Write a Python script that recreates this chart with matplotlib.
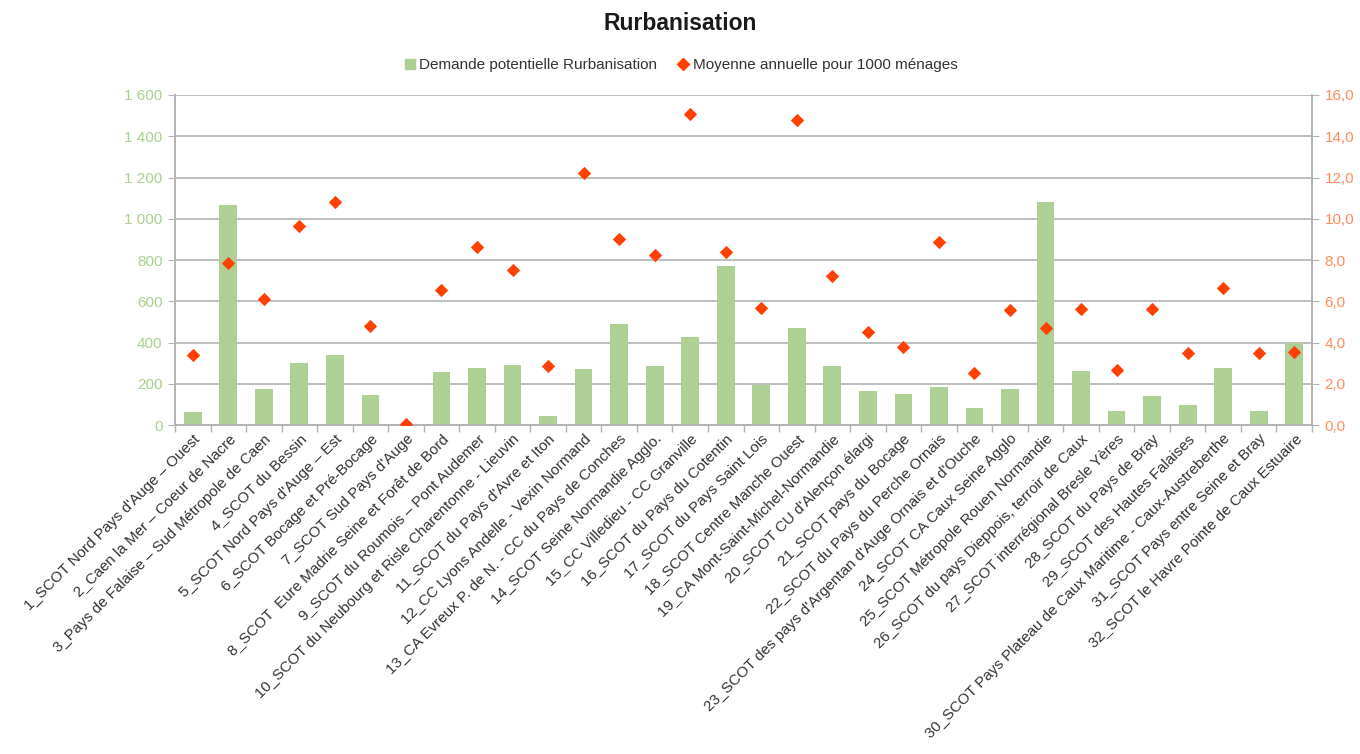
import matplotlib
matplotlib.use("Agg")
import matplotlib.pyplot as plt
from matplotlib.ticker import FixedLocator, FuncFormatter
from matplotlib.lines import Line2D
import numpy as np

plt.rcParams['font.family'] = ['Liberation Sans', 'DejaVu Sans']

categories = [
    "1_SCOT Nord Pays d'Auge – Ouest",
    "2_Caen la Mer – Coeur de Nacre",
    "3_Pays de Falaise – Sud Métropole de Caen",
    "4_SCOT du Bessin",
    "5_SCOT Nord Pays d'Auge – Est",
    "6_SCOT Bocage et Pré-Bocage",
    "7_SCOT Sud Pays d'Auge",
    "8_SCOT  Eure Madrie Seine et Forêt de Bord",
    "9_SCOT du Roumois – Pont Audemer",
    "10_SCOT du Neubourg et Risle Charentonne - Lieuvin",
    "11_SCOT du Pays d'Avre et Iton",
    "12_CC Lyons Andelle - Vexin Normand",
    "13_CA Evreux P. de N. - CC du Pays de Conches",
    "14_SCOT Seine Normandie Agglo.",
    "15_CC Villedieu - CC Granville",
    "16_SCOT du Pays du Cotentin",
    "17_SCOT du Pays Saint Lois",
    "18_SCOT Centre Manche Ouest",
    "19_CA Mont-Saint-Michel-Normandie",
    "20_SCOT CU d'Alençon élargi",
    "21_SCOT pays du Bocage",
    "22_SCOT du Pays du Perche Ornais",
    "23_SCOT des pays d'Argentan d'Auge Ornais et d'Ouche",
    "24_SCOT CA Caux Seine Agglo",
    "25_SCOT Métropole Rouen Normandie",
    "26_SCOT du pays Dieppois, terroir de Caux",
    "27_SCOT interrégional Bresle Yères",
    "28_SCOT du Pays de Bray",
    "29_SCOT des Hautes Falaises",
    "30_SCOT Pays Plateau de Caux Maritime - Caux-Austreberthe",
    "31_SCOT Pays entre Seine et Bray",
    "32_SCOT le Havre Pointe de Caux Estuaire",
]

demande = [64, 1065, 176, 299, 337, 146, 0, 255, 277, 291,
           45, 270, 492, 287, 427, 770, 193, 468, 287, 163,
           150, 182, 82, 176, 1082, 263, 66, 142, 99, 277,
           67, 400]

moyenne = [3.4, 7.85, 6.1, 9.65, 10.8, 4.8, 0.05, 6.56, 8.63, 7.5,
           2.86, 12.2, 9.0, 8.24, 15.1, 8.4, 5.67, 14.8, 7.24, 4.49,
           3.8, 8.87, 2.5, 5.6, 4.72, 5.64, 2.65, 5.64, 3.49, 6.66,
           3.47, 3.54]

left_ticks = [0, 200, 400, 600, 800, 1000, 1200, 1400, 1600]
right_ticks = [0, 2, 4, 6, 8, 10, 12, 14, 16]

bar_color = "#afd095"
dot_color = "#ff4000"
left_lab_color = "#a9d18e"
right_lab_color = "#ff8c5a"
grid_color = "#b3b3b3"

fig = plt.figure(figsize=(13.6, 7.54), dpi=100)
ax = fig.add_axes([175/1360, 1-425/754, (1312-175)/1360, (425-95)/754])
ax2 = ax.twinx()

x = np.arange(len(categories))
ax.bar(x, demande, width=0.5, color=bar_color, zorder=2)
ax2.scatter(x, moyenne, marker='D', s=46, color=dot_color, zorder=3, linewidths=0)

ax.set_xlim(-0.5, len(categories) - 0.5)
ax.set_ylim(0, 1600)
ax2.set_ylim(0, 16)

ax.yaxis.set_major_locator(FixedLocator(left_ticks))
ax2.yaxis.set_major_locator(FixedLocator(right_ticks))
ax.yaxis.set_major_formatter(FuncFormatter(lambda v, p: f"{int(v):,}".replace(",", " ")))
ax2.yaxis.set_major_formatter(FuncFormatter(lambda v, p: f"{v:.1f}".replace(".", ",")))

ax.grid(axis='y', color=grid_color, linewidth=1.2, zorder=0)
ax.set_axisbelow(True)

ax.set_xticks(x)
ax.set_xticklabels(categories, rotation=45, ha='right', rotation_mode='anchor',
                   fontsize=10.9, color="#333333")
ax.tick_params(axis='x', which='major', length=0, pad=5)
ax.set_xticks(np.arange(len(categories) + 1) - 0.5, minor=True)
ax.tick_params(axis='x', which='minor', length=5, color=grid_color, width=1)

ax.tick_params(axis='y', length=5, color=grid_color, labelcolor=left_lab_color, labelsize=11, pad=4)
ax2.tick_params(axis='y', length=5, color=grid_color, labelcolor=right_lab_color, labelsize=11, pad=4)

for a in (ax, ax2):
    a.spines['top'].set_visible(False)
    for s in ('left', 'right', 'bottom'):
        a.spines[s].set_color(grid_color)
        a.spines[s].set_linewidth(1.2)

fig.text(0.5, 1 - 23/754, "Rurbanisation", ha='center', va='center',
         fontsize=16.5, fontweight='bold', color="#1a1a1a")

handles = [
    Line2D([], [], marker='s', linestyle='none', markersize=7.5, color=bar_color),
    Line2D([], [], marker='D', linestyle='none', markersize=6.5, color=dot_color),
]
fig.legend(handles, ["Demande potentielle Rurbanisation", "Moyenne annuelle pour 1000 ménages"],
           loc='center', bbox_to_anchor=(0.5, 1 - 65/754), ncol=2, frameon=False,
           fontsize=11, handletextpad=0.1, columnspacing=1.2, handlelength=1,
           labelcolor="#333333")

fig.savefig("out.png", dpi=100)
